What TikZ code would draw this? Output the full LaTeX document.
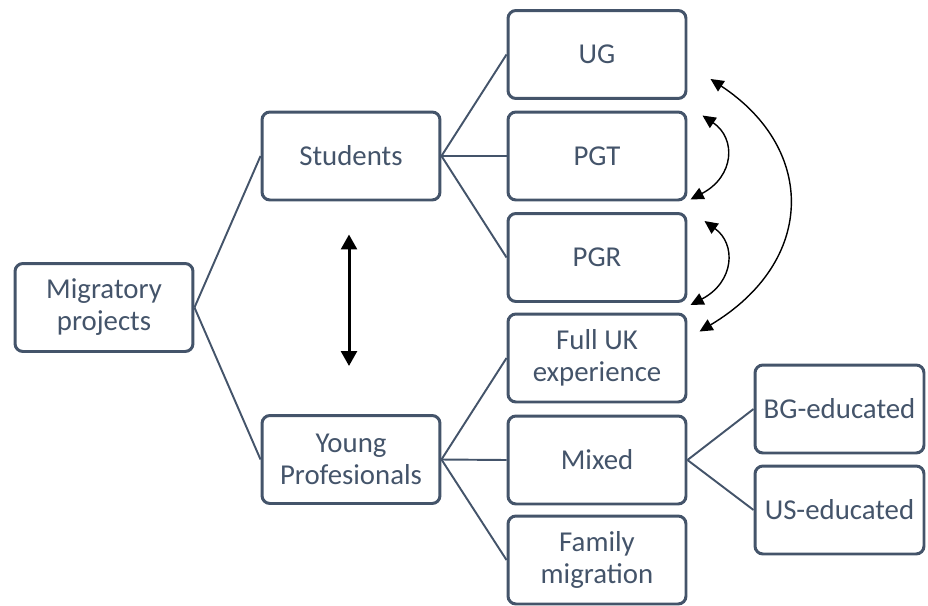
\documentclass[tikz,border=0pt]{standalone}
\usepackage{fontspec}
\setmainfont{Carlito}
\usetikzlibrary{arrows.meta,positioning}
\definecolor{slate}{HTML}{44546A}
\tikzstyle{slatebox}=[rectangle, rounded corners=4.5pt, draw=slate, line width=1.7pt, align=center, text=slate, minimum width=3.56cm, minimum height=1.76cm, inner sep=2pt, font=\fontsize{16.4}{18.2}\selectfont]
\tikzstyle{narrowbox}=[slatebox, minimum width=3.38cm]
\tikzstyle{branchline}=[draw=slate, line width=1.1pt]
\tikzstyle{swaparrow}=[<->, >={Triangle[length=7.5pt,width=7pt]}, line width=0.8pt]
\tikzstyle{bigarrow}=[<->, >={Triangle[length=8.5pt,width=9pt]}, line width=1.7pt]

\begin{document}
\begin{tikzpicture}[x=0.02cm, y=-0.02cm]
\useasboundingbox (0,0) rectangle (928,605);

\node[slatebox] (mig) at (104,307.5) {Migratory\\projects};
\node[slatebox] (stu) at (351,156) {Students};
\node[slatebox] (yp) at (351,459.5) {Young\\Profesionals};
\node[slatebox] (ug) at (597,54.5) {UG};
\node[slatebox] (pgt) at (597,156) {PGT};
\node[slatebox] (pgr) at (597,257.5) {PGR};
\node[slatebox] (fuk) at (597,358) {Full UK\\experience};
\node[slatebox] (mix) at (597,460) {Mixed};
\node[slatebox] (fam) at (597,560) {Family\\migration};
\node[narrowbox] (bg) at (839.5,409) {BG-educated};
\node[narrowbox] (us) at (839.5,510) {US-educated};

\draw[branchline] (mig.east) -- (stu.west);
\draw[branchline] (mig.east) -- (yp.west);
\draw[branchline] (stu.east) -- (ug.west);
\draw[branchline] (stu.east) -- (pgt.west);
\draw[branchline] (stu.east) -- (pgr.west);
\draw[branchline] (yp.east) -- (fuk.west);
\draw[branchline] (yp.east) -- (mix.west);
\draw[branchline] (yp.east) -- (fam.west);
\draw[branchline] (mix.east) -- (bg.west);
\draw[branchline] (mix.east) -- (us.west);

\draw[bigarrow] ([shift={(-2,33)}]stu.south) -- ([shift={(-2,-48)}]yp.north);

\draw[swaparrow] ([shift={(15,5)}]pgt.north east) .. controls +(34,23) and +(44,-23) .. ([shift={(3,-2)}]pgt.south east);
\draw[swaparrow] ([shift={(17,9)}]pgr.north east) .. controls +(32,23) and +(44,-23) .. ([shift={(3,2)}]pgr.south east);
\draw[swaparrow] ([shift={(23,-21)}]ug.south east) .. controls +(106,70) and +(117,-70) .. ([shift={(12,19)}]fuk.north east);

\end{tikzpicture}
\end{document}
